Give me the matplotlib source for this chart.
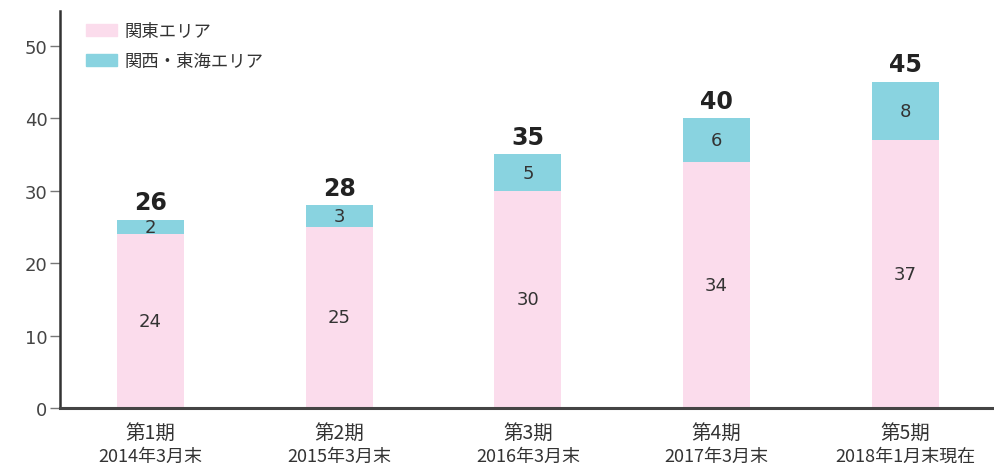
import matplotlib
matplotlib.use("Agg")
import matplotlib.pyplot as plt
import matplotlib.transforms as mtransforms
from matplotlib.patches import Patch

plt.rcParams['font.family'] = ['Noto Sans CJK JP', 'DejaVu Sans']

periods = ["第1期", "第2期", "第3期", "第4期", "第5期"]
dates = ["2014年3月末", "2015年3月末", "2016年3月末", "2017年3月末", "2018年1月末現在"]
kanto = [24, 25, 30, 34, 37]
kansai_tokai = [2, 3, 5, 6, 8]
series_names = ["関東エリア", "関西・東海エリア"]

pink = "#fbdcec"
cyan = "#89d3e0"
text_col = "#333333"
num_font = ["DejaVu Sans"]

fig = plt.figure(figsize=(9.94, 4.64), dpi=100)
ax = fig.add_axes([0.0604, 0.1185, 0.9396, 0.8555])

x = list(range(len(periods)))
totals = [a + b for a, b in zip(kanto, kansai_tokai)]
width = 0.355

ax.bar(x, kanto, width=width, color=pink, label=series_names[0])
ax.bar(x, kansai_tokai, width=width, bottom=kanto, color=cyan, label=series_names[1])

for i in x:
    ax.text(i, kanto[i] / 2, str(kanto[i]), ha="center", va="center",
            fontsize=13, color=text_col, family=num_font)
    ax.text(i, kanto[i] + kansai_tokai[i] / 2, str(kansai_tokai[i]), ha="center",
            va="center", fontsize=13, color=text_col, family=num_font)
    ax.annotate(str(totals[i]), (i, totals[i]), xytext=(0, 4), textcoords="offset points",
                ha="center", va="bottom", fontsize=17, fontweight="bold",
                color="#222222", family=num_font)

trans = mtransforms.blended_transform_factory(ax.transData, ax.transAxes)
for i in x:
    ax.text(i, -0.035, periods[i], transform=trans, ha="center", va="top",
            fontsize=14, color=text_col)
    ax.text(i, -0.098, dates[i], transform=trans, ha="center", va="top",
            fontsize=13, color=text_col)

ax.set_xlim(-0.48, 4.47)
ax.set_ylim(0, 54.8)
ax.set_yticks([0, 10, 20, 30, 40, 50])
ax.set_xticks([])
ax.tick_params(axis="y", length=7, width=1, color="#777777", labelsize=13,
               labelcolor="#444444", pad=2)
for lab in ax.get_yticklabels():
    lab.set_family(num_font)

for side in ["top", "right"]:
    ax.spines[side].set_visible(False)
ax.spines["left"].set_linewidth(1.8)
ax.spines["left"].set_color("#333333")
ax.spines["bottom"].set_linewidth(2.2)
ax.spines["bottom"].set_color("#444444")

handles = [Patch(color=pink), Patch(color=cyan)]
ax.legend(handles, series_names, loc="upper left", bbox_to_anchor=(0.028, 0.972),
          frameon=False, fontsize=12.5, handlelength=1.75, handleheight=0.7,
          labelspacing=0.7, handletextpad=0.45, labelcolor=text_col,
          borderpad=0, borderaxespad=0)

fig.savefig("out.png", dpi=100)
